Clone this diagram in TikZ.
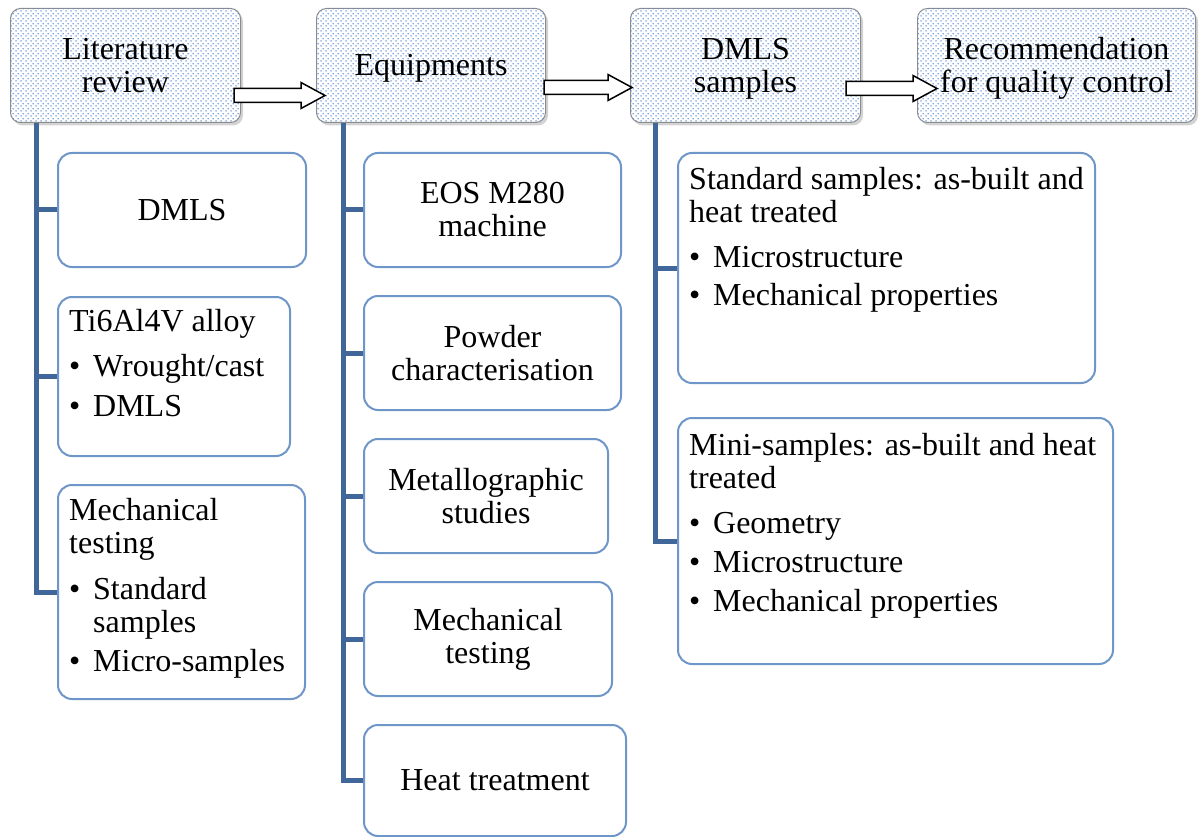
\documentclass[tikz,border=0pt]{standalone}
\usepackage{fontspec}
\setmainfont{Liberation Serif}
\usepackage{tikz}
\usetikzlibrary{positioning,calc,shadows,patterns.meta}
\definecolor{trunkc}{HTML}{41679A}
\definecolor{subline}{HTML}{6E96C8}
\definecolor{headline}{HTML}{8C8C8C}
\definecolor{dotc}{HTML}{5B8AD6}
\tikzdeclarepattern{
  name=hdots, type=uncolored,
  bounding box={(0pt,0pt) and (5pt,5pt)},
  tile size={(5pt,5pt)},
  code={
    \pgfpathcircle{\pgfpoint{1.25pt}{1.25pt}}{0.9pt}
    \pgfpathcircle{\pgfpoint{3.75pt}{3.75pt}}{0.9pt}
    \pgfusepath{fill}
  }}
\newcommand{\itm}{\makebox[24pt][l]{\textbullet}}
\newcommand{\itmcont}{\hspace*{24pt}}
\newcommand{\hdtop}{\rule{0pt}{28pt}}
\newcommand{\hdbot}{\rule[-7pt]{0pt}{7pt}}
% block arrow between two header boxes: #1 tail, #2 tip
\newcommand{\blockarrow}[2]{%
  \draw[barrow] ($(#1)+(0,-7)$) -- ($(#2)+(-24,-7)$) -- ($(#2)+(-24,-13)$) -- (#2)
    -- ($(#2)+(-24,13)$) -- ($(#2)+(-24,7)$) -- ($(#1)+(0,7)$) -- cycle;}
\tikzset{
  bigfont/.style={font=\fontsize{32}{33}\selectfont},
  head/.style={bigfont,draw=headline,line width=1pt,rounded corners=10pt,fill=white,
    postaction={pattern=hdots,pattern color=dotc},
    drop shadow={shadow xshift=2.5pt,shadow yshift=-3pt,opacity=0.35},
    minimum height=114pt,inner sep=0pt,align=center,anchor=north west},
  sub/.style={bigfont,draw=subline,line width=2pt,rounded corners=14pt,fill=white,
    minimum height=114pt,inner sep=0pt,align=center,anchor=north west},
  subtxt/.style={bigfont,inner sep=0pt,align=left,anchor=north west},
  trunk/.style={draw=trunkc,line width=5pt},
  barrow/.style={draw=black,line width=1.5pt,fill=white,line join=miter},
}
\begin{document}
\begin{tikzpicture}[x=1pt,y=-1pt]
  \useasboundingbox (0,0) rectangle (1202,837);
  % --- the four stages ---
  \node[head,minimum width=230pt](lit) at (10,8) {\hdtop Literature\\review\hdbot};
  \node[head,minimum width=229pt](equip) at (316,8) {\hdtop Equipments\hdbot};
  \node[head,minimum width=230pt](dsam) at (630,8) {\hdtop DMLS\\samples\hdbot};
  \node[head,minimum width=278pt](rec) at (917,8) {\hdtop Recommendation\\for quality control\hdbot};

  % --- literature review ---
  \node[sub,minimum width=248pt](dmls) at (57,152) {DMLS};
  \node[sub,minimum width=232pt,minimum height=159pt,below=28pt of dmls.south west,anchor=north west](alloy) {};
  \node[subtxt](alloytxt) at ([shift={(12,13)}]alloy.north west)
    {Ti6Al4V alloy\\[12pt]\itm Wrought/cast\\[7pt]\itm DMLS};
  \node[sub,minimum width=247pt,minimum height=214pt,below=27pt of alloy.south west,anchor=north west](mtest) {};
  \node[subtxt](mtesttxt) at ([shift={(12,14)}]mtest.north west)
    {Mechanical\\testing\\[13pt]\itm Standard\\\itmcont samples\\[6pt]\itm Micro-samples};

  % --- equipments ---
  \node[sub,minimum width=257pt](eos) at (363,152) {EOS M280\\machine};
  \node[sub,minimum width=257pt,below=27pt of eos.south west,anchor=north west](powder) {Powder\\characterisation};
  \node[sub,minimum width=244pt,below=27pt of powder.south west,anchor=north west](metal) {Metallographic\\studies};
  \node[sub,minimum width=248pt,below=27pt of metal.south west,anchor=north west](mech) {Mechanical\\testing};
  \node[sub,minimum width=262pt,minimum height=111pt,below=27pt of mech.south west,anchor=north west](heat) {Heat treatment};

  % --- DMLS samples ---
  \node[sub,minimum width=417pt,minimum height=230pt](std) at (677,152) {};
  \node[subtxt](stdtxt) at ([shift={(12,15)}]std.north west)
    {Standard samples: as-built and\\heat treated\\[12pt]\itm Microstructure\\[5pt]\itm Mechanical properties};
  \node[sub,minimum width=435pt,minimum height=246pt,below=33pt of std.south west,anchor=north west](mini) {};
  \node[subtxt](minitxt) at ([shift={(12,16)}]mini.north west)
    {Mini-samples: as-built and heat\\treated\\[12pt]\itm Geometry\\[6.5pt]\itm Microstructure\\[6pt]\itm Mechanical properties};

  % --- trunks ---
  \foreach \b in {dmls,alloy,mtest}
    \draw[trunk]([xshift=26pt]lit.south west) |- (\b.west);
  \foreach \b in {eos,powder,metal,mech,heat}
    \draw[trunk]([xshift=27pt]equip.south west) |- (\b.west);
  \foreach \b in {std,mini}
    \draw[trunk]([xshift=25pt]dsam.south west) |- (\b.west);

  % --- block arrows ---
  \coordinate (a1s) at ([shift={(-7,30)}]lit.east);
  \coordinate (a1t) at ([shift={(9,30)}]equip.west);
  \coordinate (a2s) at ([shift={(-2,22)}]equip.east);
  \coordinate (a2t) at ([shift={(2,22)}]dsam.west);
  \coordinate (a3s) at ([shift={(-15,23)}]dsam.east);
  \coordinate (a3t) at ([shift={(20,23)}]rec.west);
  \blockarrow{a1s}{a1t}
  \blockarrow{a2s}{a2t}
  \blockarrow{a3s}{a3t}
\end{tikzpicture}
\end{document}
